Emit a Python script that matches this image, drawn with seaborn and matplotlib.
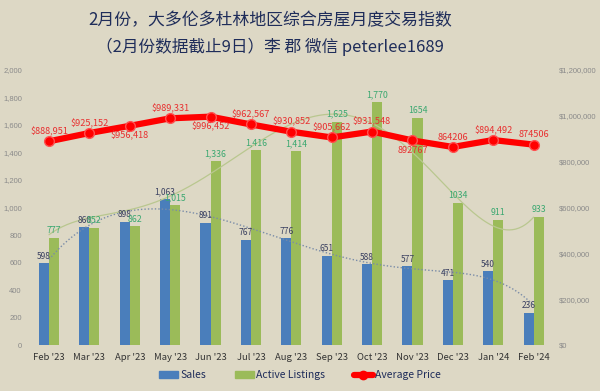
import numpy as np
import pandas as pd
import matplotlib
matplotlib.use("Agg")
import matplotlib.pyplot as plt
import seaborn as sns
from matplotlib.patches import Patch
from matplotlib.lines import Line2D

sns.set_theme(style="white")
plt.rcParams['font.family'] = ['Noto Sans CJK SC', 'DejaVu Sans']

months = ["Feb '23", "Mar '23", "Apr '23", "May '23", "Jun '23", "Jul '23", "Aug '23",
          "Sep '23", "Oct '23", "Nov '23", "Dec '23", "Jan '24", "Feb '24"]
sales = [598, 860, 898, 1063, 891, 767, 776, 651, 588, 577, 471, 540, 236]
listings = [777, 852, 862, 1015, 1336, 1416, 1414, 1625, 1770, 1654, 1034, 911, 933]
listing_labels = ["777", "852", "862", "1,015", "1,336", "1,416", "1,414", "1,625", "1,770",
                  "1654", "1034", "911", "933"]
sales_labels = ["598", "860", "898", "1,063", "891", "767", "776", "651", "588", "577",
                "471", "540", "236"]
# trendline values
sales_trend = [620, 880, 965, 985, 945, 840, 750, 665, 585, 560, 530, 470, 290]
listings_trend = [805, 915, 995, 1080, 1250, 1440, 1590, 1690, 1625, 1400, 1080, 885, 925]
price = [888951, 925152, 956418, 989331, 996452, 962567, 930852, 905662, 931548,
         892767, 864206, 894492, 874506]
price_labels = ["$888,951", "$925,152", "$956,418", "$989,331", "$996,452", "$962,567",
                "$930,852", "$905,662", "$931,548", "892767", "864206", "$894,492", "874506"]
price_label_below = [False, False, True, False, True, False, False, False, False,
                     True, False, False, False]

BG = "#ddd8c5"
BLUE = "#4a7ebb"
GREEN = "#9bbb59"
RED = "#ff0000"
NAVY = "#1f2d5a"

fig = plt.figure(figsize=(6.0, 3.91), dpi=100, facecolor=BG)
ax = fig.add_axes([0.048, 0.1176, 0.875, 0.7033])
ax.set_facecolor(BG)

df = pd.DataFrame({
    "month": months * 2,
    "value": sales + listings,
    "series": ["Sales"] * len(months) + ["Active Listings"] * len(months),
})
sns.barplot(data=df, x="month", y="value", hue="series",
            palette={"Sales": BLUE, "Active Listings": GREEN},
            width=0.5, ax=ax, legend=False, saturation=1, linewidth=0, edgecolor="none")

x = np.arange(len(months))
xs = np.linspace(0, len(months) - 1, 300)
ps = np.polyfit(x, sales_trend, 6)
pl = np.polyfit(x, listings_trend, 6)
ax.plot(xs, np.polyval(ps, xs), ls=(0, (1, 1.5)), color="#7a8ca8", lw=1.0, zorder=3)
ax.plot(xs, np.polyval(pl, xs), ls="-", color="#b9c78f", lw=0.9, zorder=3)

ax.set_xlim(-0.5, len(months) - 0.5)
ax.set_ylim(0, 2000)
ax.set_yticks(np.arange(0, 2001, 200))
ax.set_yticklabels([f"{v:,}" for v in range(0, 2001, 200)], fontsize=5.5, color="#8a8a8a",
                   family=['Liberation Sans', 'DejaVu Sans'])
ax.tick_params(axis='y', length=0, pad=5)
ax.tick_params(axis='x', length=0, pad=6)
ax.set_xticks(x)
ax.set_xticklabels(months, fontsize=6.8, color="#333333")
ax.set_xlabel("")
ax.set_ylabel("")
for s in ax.spines.values():
    s.set_visible(False)

off = 0.125
for i in range(len(months)):
    ax.annotate(sales_labels[i], (i - off, sales[i]), xytext=(0, 1.5), textcoords="offset points",
                ha="center", va="bottom", fontsize=6, color="#3a4060", zorder=4)
    ax.annotate(listing_labels[i], (i + off, listings[i]), xytext=(0, 2), textcoords="offset points",
                ha="center", va="bottom", fontsize=6.3, color="#3aa870", zorder=4)

ax2 = ax.twinx()
ax2.set_position(ax.get_position())
sns.lineplot(x=x, y=price, ax=ax2, color=RED, lw=4.5, marker="o", markersize=7,
             markeredgecolor="#ff5050", markeredgewidth=1.0, zorder=5)
ax2.set_ylim(0, 1200000)
ax2.set_yticks(np.arange(0, 1200001, 200000))
ax2.set_yticklabels([f"${v:,}" for v in range(0, 1200001, 200000)], fontsize=5.5,
                    color="#8a8a8a", family=['Liberation Sans', 'DejaVu Sans'])
ax2.tick_params(axis='y', length=0, pad=4)
ax2.set_ylabel("")
for s in ax2.spines.values():
    s.set_visible(False)

for i in range(len(months)):
    dy = -7 if price_label_below[i] else 7
    ax2.annotate(price_labels[i], (i, price[i]), xytext=(0, dy), textcoords="offset points",
                 ha="center", va="center", fontsize=6.6, color="#e83030", zorder=6)

fig.text(0.45, 0.948, "2月份，大多伦多杜林地区综合房屋月度交易指数", ha="center", va="center",
         fontsize=12.2, color=NAVY)
fig.text(0.45, 0.88, "（2月份数据截止9日）李 郡 微信 peterlee1689", ha="center", va="center",
         fontsize=12.0, color=NAVY)

handles = [Patch(facecolor=BLUE, edgecolor=BLUE),
           Patch(facecolor=GREEN, edgecolor=GREEN),
           Line2D([0], [0], color=RED, lw=4.5, marker="o", markersize=6)]
leg = fig.legend(handles, ["Sales", "Active Listings", "Average Price"], loc="center",
                 bbox_to_anchor=(0.5, 0.04), ncol=3, frameon=False, fontsize=7.5,
                 handlelength=1.8, handletextpad=0.2, columnspacing=2.8)
for t in leg.get_texts():
    t.set_color(NAVY)

fig.savefig("out.png", dpi=100, facecolor=BG)
